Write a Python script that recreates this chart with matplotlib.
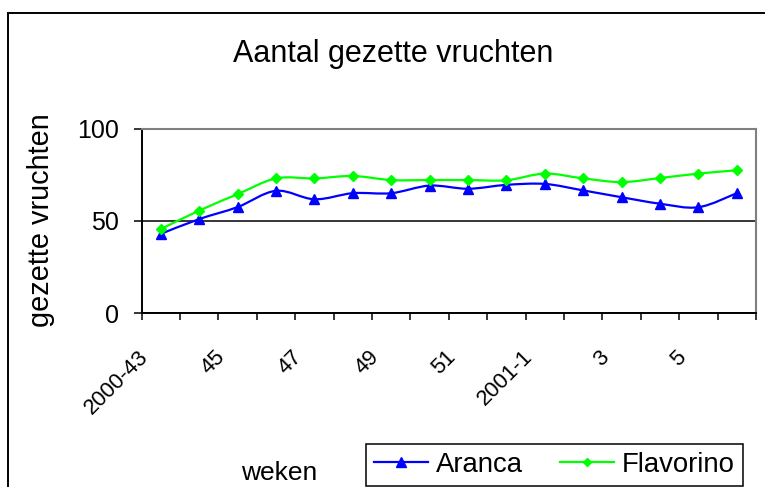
import numpy as np
import matplotlib
matplotlib.use("Agg")
import matplotlib.pyplot as plt
from matplotlib.path import Path
from matplotlib.patches import PathPatch, Rectangle
from matplotlib.lines import Line2D
from matplotlib.transforms import ScaledTranslation

plt.rcParams['font.family'] = ['Liberation Sans', 'DejaVu Sans']

# ---- data ----
weeks = ['2000-43', '44', '45', '46', '47', '48', '49', '50', '51', '52',
         '2001-1', '2', '3', '4', '5', '6']
aranca = [43, 51, 57.5, 66.3, 61.7, 65, 65, 69.1, 67.4, 69.5, 70, 66.5, 62.8, 59.3, 57.4, 65]
flavorino = [45.6, 55.6, 64.5, 73, 73, 74.3, 72.1, 72.1, 72.1, 72, 75.6, 73, 71, 73.2, 75.6, 77.4]
series_names = ['Aranca', 'Flavorino']
title = 'Aantal gezette vruchten'
ylabel = 'gezette vruchten'
xlabel = 'weken'
yticks = [0, 50, 100]

W, H = 765, 487
fig = plt.figure(figsize=(W / 100, H / 100), dpi=100)

# outer chart-area border
fig.patches.append(Rectangle((8 / W, -0.1), 1.2, 1.1 - 12.7 / H, transform=fig.transFigure,
                             fill=False, ec='black', lw=1.4, zorder=0))

left, right, top, bottom = 141.7, 756, 128.5, 313.3
ax = fig.add_axes([left / W, 1 - bottom / H, (right - left) / W, (bottom - top) / H])

x = np.arange(len(weeks))


def smooth_path(xs, ys):
    pts = np.column_stack([xs, ys]).astype(float)
    n = len(pts)
    verts = [pts[0]]
    codes = [Path.MOVETO]
    for i in range(n - 1):
        p0 = pts[max(i - 1, 0)]
        p1 = pts[i]
        p2 = pts[i + 1]
        p3 = pts[min(i + 2, n - 1)]
        c1 = p1 + (p2 - p0) / 6.0
        c2 = p2 - (p3 - p1) / 6.0
        verts += [c1, c2, p2]
        codes += [Path.CURVE4] * 3
    return Path(verts, codes)


styles = [
    dict(color='#0000FF', marker='^', ms=7.3),
    dict(color='#00FF00', marker='D', ms=5.0),
]
handles = []
for vals, name, st in zip([aranca, flavorino], series_names, styles):
    ax.add_patch(PathPatch(smooth_path(x, vals), fill=False, ec=st['color'], lw=1.6, zorder=3))
    ax.plot(x, vals, ls='none', marker=st['marker'], ms=st['ms'], color=st['color'],
            mec=st['color'], zorder=4)
    handles.append(Line2D([], [], color=st['color'], lw=1.6, marker=st['marker'],
                          ms=st['ms'] * 0.9, mec=st['color']))

ax.set_xlim(-0.5, len(weeks) - 0.5)
ax.set_ylim(0, 100)

# y axis
ax.set_yticks(yticks)
ax.set_yticklabels([str(v) for v in yticks], fontsize=18)
ax.tick_params(axis='y', direction='out', length=6, width=1.1, pad=10.5, colors='black')
ax.grid(axis='y', color='black', lw=1.1)
ax.set_axisbelow(True)

# x axis: labels at category centres (every second), tick marks at boundaries
ax.set_xticks(x[::2])
ax.set_xticklabels(weeks[::2], fontsize=15.8, rotation=45, ha='right', va='top')
ax.set_xticks(np.arange(-0.5, len(weeks)), minor=True)
ax.tick_params(axis='x', which='major', length=0, pad=24)
ax.tick_params(axis='x', which='minor', direction='out', length=5.3, width=1.1)
off = ScaledTranslation(-8 / 100, 0, fig.dpi_scale_trans)
for lab in ax.get_xticklabels():
    lab.set_transform(lab.get_transform() + off)

for s in ['left', 'bottom']:
    ax.spines[s].set_color('black')
    ax.spines[s].set_linewidth(1.4)
for s in ['top', 'right']:
    ax.spines[s].set_color('#808080')
    ax.spines[s].set_linewidth(1.5)

# texts
fig.text(393 / W, 1 - 61.7 / H, title, fontsize=22, ha='center', va='baseline')
fig.text(41.5 / W, 1 - 220 / H, ylabel, fontsize=20.8, rotation=90, ha='center', va='center')
fig.text(279 / W, 1 - 480 / H, xlabel, fontsize=19, ha='center', va='baseline')

leg = fig.legend(handles, series_names, loc='lower left',
                 bbox_to_anchor=(366 / W, 1 - 486 / H), bbox_transform=fig.transFigure,
                 ncol=2, fontsize=19.8, frameon=True, fancybox=False, framealpha=1,
                 edgecolor='black', borderaxespad=0, borderpad=0.3,
                 handlelength=1.95, handletextpad=0.3, columnspacing=1.35, numpoints=1)
leg.get_frame().set_linewidth(1.1)

fig.savefig('out.png', dpi=100)
